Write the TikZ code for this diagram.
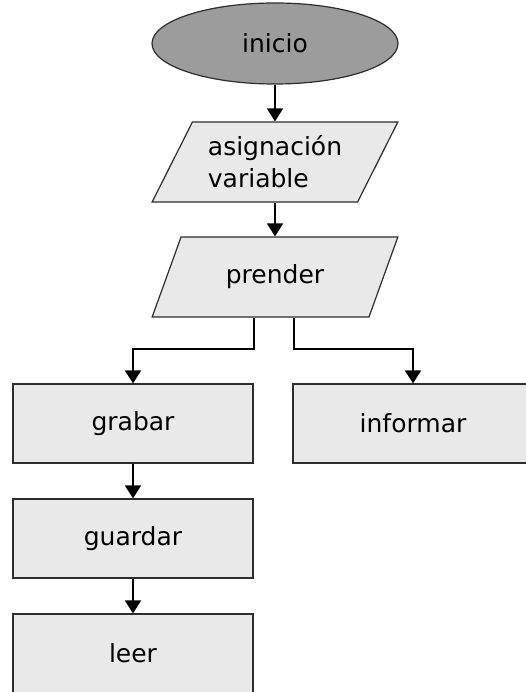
\documentclass[tikz,border=0pt]{standalone}
\usepackage{fontspec}
\setmainfont{DejaVu Sans}
\usepackage{tikz}
\usetikzlibrary{shapes.geometric, arrows.meta, positioning, calc}
\definecolor{termfill}{RGB}{156,156,156}
\definecolor{boxfill}{RGB}{233,233,233}
\definecolor{edge}{RGB}{45,45,45}

\begin{document}
\begin{tikzpicture}[x=1pt, y=-1pt,
	every node/.style={font=\fontsize{25}{32}\selectfont},
	term/.style={draw=edge, line width=1.2pt, fill=termfill, ellipse, minimum width=246pt, minimum height=81pt, inner sep=0pt},
	io/.style={draw=edge, line width=1.2pt, fill=boxfill, trapezium, trapezium left angle=58, trapezium right angle=122, trapezium stretches=true, minimum width=246pt, minimum height=80pt, inner sep=0pt, align=left},
	proc/.style={draw=edge, line width=1.2pt, fill=boxfill, rectangle, minimum width=240pt, minimum height=79pt, inner sep=0pt},
	flow/.style={line width=1.8pt, -{Triangle[width=16pt, length=13pt]}}]
			\useasboundingbox (0,0) rectangle (526,692);
			% Start
			\node[term] (inicio) at (275,43.5) {inicio};
			% Input / output
			\node[io] (asig) at (275,162) {asignación\\variable};
			\node[io] (prender) at (275,277) {prender};
			% Processes
			\node[proc] (grabar) at (133,423.5) {grabar};
			\node[proc] (informar) at (413,423.5) {informar};
			\node[proc] (guardar) at (133,538.5) {guardar};
			\node[proc] (leer) at (133,653.5) {leer};
			% Connectors
			\draw[flow] (inicio.south) -- (inicio.south |- asig.north);
			\draw[flow] (inicio.south |- asig.south) -- (inicio.south |- prender.north);
			\coordinate (forkL) at ($(prender.center)+(-21,0)$);
			\coordinate (forkR) at ($(prender.center)+(19,0)$);
			\draw[flow] (forkL |- prender.south) -- ++(0,31) -| (grabar.north);
			\draw[flow] (forkR |- prender.south) -- ++(0,31) -| (informar.north);
			\draw[flow] (grabar) -- (guardar);
			\draw[flow] (guardar) -- (leer);
		\end{tikzpicture}
\end{document}
